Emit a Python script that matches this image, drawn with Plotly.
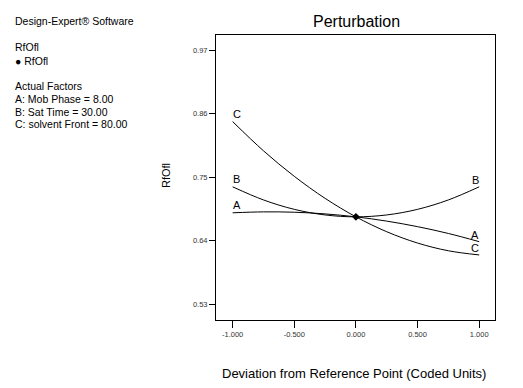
import plotly.graph_objects as go

# ---- data ----
x_dev = [-1.0, -0.75, -0.5, -0.25, 0.0, 0.25, 0.5, 0.75, 1.0]
A_vals = [0.688, 0.6896, 0.689, 0.6861, 0.681, 0.6736, 0.664, 0.6522, 0.638]
B_vals = [0.733, 0.7103, 0.694, 0.6843, 0.681, 0.6843, 0.694, 0.7103, 0.733]
C_vals = [0.846, 0.7954, 0.7512, 0.713, 0.681, 0.6552, 0.6356, 0.6222, 0.615]
ref_x = [0.0]
ref_y = [0.681]
x_ticks = [-1.0, -0.5, 0.0, 0.5, 1.0]
x_ticktext = ["-1.000", "-0.500", "0.000", "0.500", "1.000"]
y_ticks = [0.53, 0.64, 0.75, 0.86, 0.97]
y_ticktext = ["0.53", "0.64", "0.75", "0.86", "0.97"]
side_lines = ["Design-Expert® Software", "RfOfl", "\u25cf RfOfl", "Actual Factors",
              "A: Mob Phase = 8.00", "B: Sat Time = 30.00", "C: solvent Front = 80.00"]

FONT = "Liberation Sans, Arial, sans-serif"
W, H = 523, 388
L, R, T, B = 216, 28, 35, 68
PW, PH = W - L - R, H - T - B


def px(xp):
    return (xp - L) / PW


def py(yp):
    return 1 - (yp - T) / PH


fig = go.Figure()
for name, vals in [("A", A_vals), ("B", B_vals), ("C", C_vals)]:
    fig.add_trace(go.Scatter(x=x_dev, y=vals, mode="lines", line=dict(color="black", width=1, shape="spline"),
                             showlegend=False, hoverinfo="skip"))
fig.add_trace(go.Scatter(x=ref_x, y=ref_y, mode="markers", marker=dict(symbol="diamond", size=6, color="black"),
                         showlegend=False))

ann = []
# curve labels at each end
for name, vals in [("A", A_vals), ("B", B_vals), ("C", C_vals)]:
    ann.append(dict(x=x_dev[0], y=vals[0], xref="x", yref="y", text=name, showarrow=False,
                    xanchor="center", yanchor="bottom", xshift=4, yshift=0,
                    font=dict(family=FONT, size=11, color="black")))
    ann.append(dict(x=x_dev[-1], y=vals[-1], xref="x", yref="y", text=name, showarrow=False,
                    xanchor="center", yanchor="bottom", xshift=-4, yshift=-1,
                    font=dict(family=FONT, size=11, color="black")))

# left side text
side_y = [21, 47, 61, 86, 99, 112, 124]
for txt, yp in zip(side_lines, side_y):
    ann.append(dict(x=px(13), y=py(yp), xref="paper", yref="paper", text=txt, showarrow=False,
                    xanchor="left", yanchor="middle", font=dict(family=FONT, size=10.5, color="black")))

# title
ann.append(dict(x=px(356), y=py(21), xref="paper", yref="paper", text="Perturbation", showarrow=False,
                xanchor="center", yanchor="middle", font=dict(family=FONT, size=16, color="black")))
# axis titles
ann.append(dict(x=px(354), y=py(373), xref="paper", yref="paper",
                text="Deviation from Reference Point (Coded Units)", showarrow=False,
                xanchor="center", yanchor="middle", font=dict(family=FONT, size=13, color="black")))
ann.append(dict(x=px(166), y=py(176), xref="paper", yref="paper", text="RfOfl", showarrow=False,
                textangle=-90, xanchor="center", yanchor="middle",
                font=dict(family=FONT, size=11, color="black")))

fig.update_layout(
    width=W, height=H,
    margin=dict(l=L, r=R, t=T, b=B),
    paper_bgcolor="white", plot_bgcolor="white",
    annotations=ann,
    showlegend=False,
)
fig.update_xaxes(range=[-1.135, 1.128], tickvals=x_ticks, ticktext=x_ticktext, showgrid=False, zeroline=False,
                 showline=True, linecolor="black", linewidth=1, mirror=True,
                 ticks="outside", ticklen=7, tickcolor="black",
                 tickfont=dict(family=FONT, size=7.5, color="#333333"))
fig.update_yaxes(range=[0.5023, 0.996], tickvals=y_ticks, ticktext=y_ticktext, showgrid=False, zeroline=False,
                 showline=True, linecolor="black", linewidth=1, mirror=True,
                 ticks="outside", ticklen=6, tickcolor="black",
                 tickfont=dict(family=FONT, size=7.5, color="#333333"))

fig.write_html("out.html", config={"displayModeBar": False},
               post_script="document.body.style.margin='0';document.body.style.overflow='hidden';")
